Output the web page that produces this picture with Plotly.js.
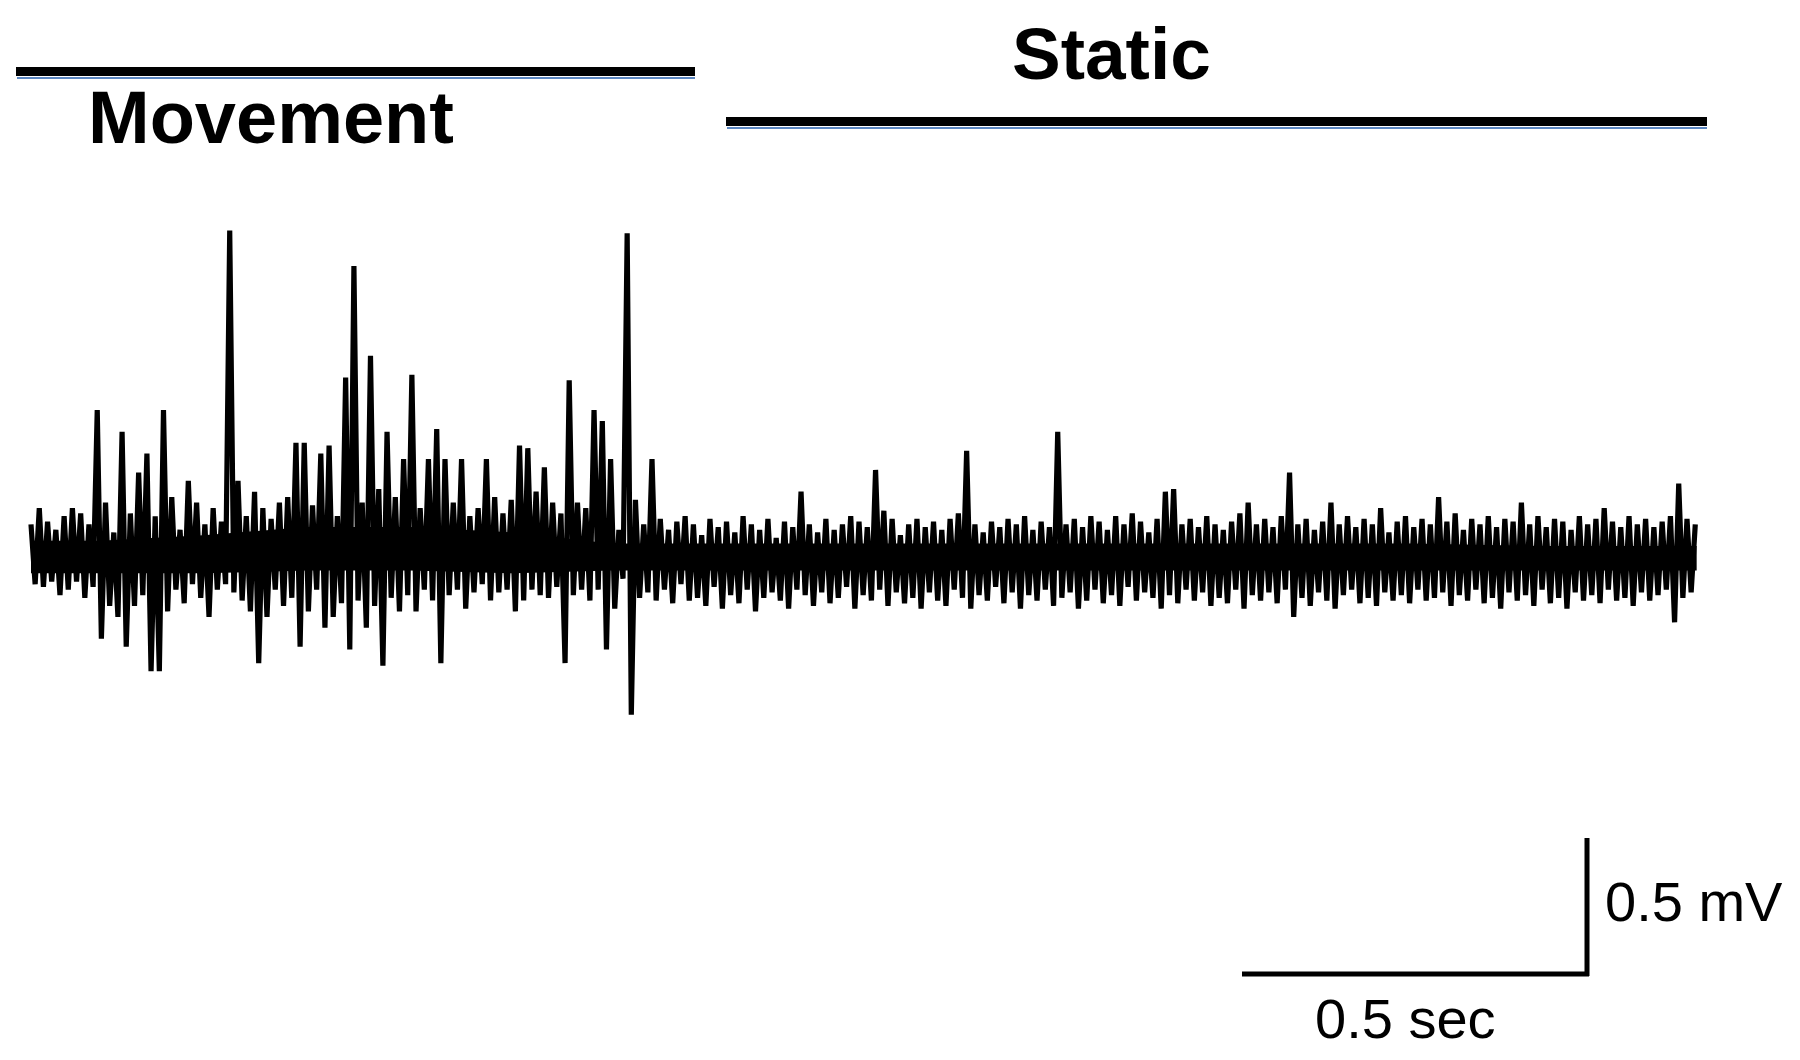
<!DOCTYPE html>
<html><head><meta charset="utf-8">
<script src="https://cdn.plot.ly/plotly-3.0.1.min.js"></script>
<style>html,body{margin:0;padding:0;background:#fff;overflow:hidden}#chart{width:1800px;height:1060px;}</style>
</head><body><div id="chart"></div>
<script>
// ---- data ----
const sampleInterval = 0.006; // seconds between samples
const emgMilliVolts = [
 0.12,-0.10, 0.18,-0.11, 0.13,-0.09, 0.10,-0.14, 0.15,-0.12,
 0.18,-0.09, 0.16,-0.15, 0.12,-0.11, 0.54,-0.30, 0.20,-0.18,
 0.09,-0.22, 0.46,-0.33, 0.16,-0.18, 0.31,-0.14, 0.38,-0.42,
 0.15,-0.42, 0.54,-0.20, 0.22,-0.12, 0.10,-0.17, 0.28,-0.10,
 0.20,-0.15, 0.12,-0.22, 0.18,-0.12, 0.13,-0.10, 1.20,-0.13,
 0.28,-0.16, 0.15,-0.20, 0.24,-0.39, 0.18,-0.22, 0.14,-0.12,
 0.20,-0.18, 0.22,-0.15, 0.42,-0.33, 0.42,-0.20, 0.19,-0.12,
 0.38,-0.26, 0.41,-0.22, 0.15,-0.17, 0.66,-0.34, 1.07,-0.16,
 0.20,-0.26, 0.74,-0.18, 0.25,-0.40, 0.46,-0.15, 0.22,-0.20,
 0.36,-0.14, 0.67,-0.20, 0.18,-0.12, 0.36,-0.16, 0.47,-0.39,
 0.36,-0.14, 0.20,-0.12, 0.36,-0.19, 0.15,-0.13, 0.18,-0.10,
 0.36,-0.16, 0.22,-0.13, 0.16,-0.12, 0.21,-0.20, 0.41,-0.16,
 0.40,-0.12, 0.24,-0.14, 0.33,-0.15, 0.20,-0.11, 0.16,-0.39,
 0.65,-0.14, 0.20,-0.12, 0.18,-0.16, 0.54,-0.12, 0.50,-0.34,
 0.36,-0.19, 0.10,-0.08, 1.19,-0.58, 0.21,-0.15, 0.12,-0.13,
 0.36,-0.16, 0.14,-0.12, 0.10,-0.17, 0.13,-0.10, 0.15,-0.16,
 0.12,-0.15, 0.08,-0.18, 0.14,-0.11, 0.11,-0.19, 0.13,-0.14,
 0.09,-0.17, 0.15,-0.12, 0.12,-0.20, 0.10,-0.15, 0.14,-0.13,
 0.07,-0.16, 0.13,-0.19, 0.11,-0.12, 0.24,-0.14, 0.12,-0.18,
 0.09,-0.13, 0.14,-0.17, 0.10,-0.15, 0.12,-0.11, 0.15,-0.19,
 0.13,-0.14, 0.11,-0.16, 0.32,-0.12, 0.17,-0.18, 0.14,-0.13,
 0.08,-0.17, 0.12,-0.15, 0.14,-0.19, 0.11,-0.13, 0.13,-0.16,
 0.10,-0.18, 0.14,-0.12, 0.16,-0.15, 0.39,-0.19, 0.12,-0.14,
 0.09,-0.16, 0.13,-0.11, 0.11,-0.17, 0.14,-0.13, 0.12,-0.19,
 0.15,-0.14, 0.10,-0.16, 0.13,-0.12, 0.11,-0.18, 0.46,-0.15,
 0.12,-0.13, 0.14,-0.19, 0.11,-0.16, 0.15,-0.12, 0.13,-0.17,
 0.10,-0.14, 0.15,-0.18, 0.12,-0.11, 0.16,-0.16, 0.13,-0.13,
 0.09,-0.15, 0.14,-0.19, 0.24,-0.14, 0.25,-0.17, 0.12,-0.12,
 0.14,-0.16, 0.11,-0.13, 0.15,-0.18, 0.12,-0.15, 0.10,-0.17,
 0.13,-0.12, 0.16,-0.19, 0.20,-0.14, 0.12,-0.16, 0.14,-0.13,
 0.11,-0.17, 0.15,-0.12, 0.31,-0.22, 0.12,-0.15, 0.14,-0.18,
 0.10,-0.13, 0.13,-0.16, 0.20,-0.19, 0.12,-0.14, 0.15,-0.12,
 0.11,-0.17, 0.14,-0.15, 0.12,-0.18, 0.18,-0.13, 0.09,-0.16,
 0.13,-0.14, 0.15,-0.17, 0.11,-0.12, 0.14,-0.16, 0.12,-0.15,
 0.22,-0.13, 0.13,-0.18, 0.16,-0.14, 0.10,-0.16, 0.14,-0.12,
 0.12,-0.17, 0.15,-0.15, 0.11,-0.19, 0.14,-0.13, 0.13,-0.16,
 0.20,-0.14, 0.12,-0.18, 0.15,-0.12, 0.11,-0.17, 0.14,-0.15,
 0.13,-0.19, 0.10,-0.13, 0.15,-0.16, 0.12,-0.14, 0.14,-0.17,
 0.18,-0.12, 0.13,-0.16, 0.11,-0.15, 0.15,-0.18, 0.12,-0.13,
 0.14,-0.16, 0.11,-0.14, 0.13,-0.12, 0.15,-0.24, 0.27,-0.15,
 0.14,-0.13, 0.12
];
// dense (solid black) core of the recording
const coreTime  = [0.00, 0.10, 0.25, 0.40, 0.55, 0.70, 0.84, 0.90, 1.10, 1.40, 1.70, 2.00, 2.20, 2.414];
const coreUpper = [0.06, 0.06, 0.08, 0.11, 0.11, 0.09, 0.05, 0.05, 0.05, 0.05, 0.05, 0.05, 0.04, 0.04];
const coreLower = [-0.06,-0.06,-0.06,-0.05,-0.05,-0.06,-0.05,-0.05,-0.05,-0.05,-0.05,-0.05,-0.05,-0.05];

const phaseLabels = ["Movement", "Static"];
const scaleBarSeconds = 0.5;
const scaleBarMilliVolts = 0.5;
const scaleLabels = ["0.5 sec", "0.5 mV"];

// ---- layout geometry (pixels of the 1800x1060 page) ----
const W = 1800, H = 1060;
const pxPerSec = 690, x0px = 31;     // t=0 at x=31 px
const pxPerMV = 272, y0px = 557;     // 0 mV at y=557 px
const xRange = [(0 - x0px) / pxPerSec, (W - x0px) / pxPerSec];
const yRange = [(y0px - H) / pxPerMV, (y0px - 0) / pxPerMV];
const tPx = px => (px - x0px) / pxPerSec;
const vPx = py => (y0px - py) / pxPerMV;
const FONT = '"Liberation Sans", Arial, Helvetica, sans-serif';

const coreTrace = {
  type: 'scatter', mode: 'lines',
  x: coreTime.concat(coreTime.slice().reverse()),
  y: coreUpper.concat(coreLower.slice().reverse()),
  fill: 'toself', fillcolor: '#000',
  line: {color: '#000', width: 0},
  hoverinfo: 'skip', showlegend: false
};
const trace = {
  type: 'scatter', mode: 'lines',
  x0: 0, dx: sampleInterval,
  y: emgMilliVolts,
  line: {color: '#000', width: 5.2},
  hoverinfo: 'skip', showlegend: false
};

// scale bar anchored at its corner
const sbT = tPx(1587), sbV = vPx(974);
const shapes = [
  // phase bars
  {type:'line', xref:'paper', yref:'paper', x0:17/W, x1:695/W, y0:1-78/H, y1:1-78/H, line:{color:'#5b86c0', width:2}},
  {type:'line', xref:'paper', yref:'paper', x0:16/W, x1:695/W, y0:1-71.5/H, y1:1-71.5/H, line:{color:'#000', width:9}},
  {type:'line', xref:'paper', yref:'paper', x0:727/W, x1:1707/W, y0:1-128/H, y1:1-128/H, line:{color:'#5b86c0', width:2}},
  {type:'line', xref:'paper', yref:'paper', x0:726/W, x1:1707/W, y0:1-121.5/H, y1:1-121.5/H, line:{color:'#000', width:9}},
  // scale bar
  {type:'line', xref:'x', yref:'y', x0:sbT - scaleBarSeconds, x1:sbT + 2/pxPerSec, y0:sbV, y1:sbV, line:{color:'#000', width:5}},
  {type:'line', xref:'x', yref:'y', x0:sbT, x1:sbT, y0:sbV - 2/pxPerMV, y1:sbV + scaleBarMilliVolts, line:{color:'#000', width:5}}
];

const annotations = [
  {text: phaseLabels[0], xref:'paper', yref:'paper', x:271/W, y:1-118/H, xanchor:'center', yanchor:'middle', showarrow:false, font:{family:FONT, size:74, weight:'bold', color:'#000'}},
  {text: phaseLabels[1], xref:'paper', yref:'paper', x:1111/W, y:1-53/H, xanchor:'center', yanchor:'middle', showarrow:false, font:{family:FONT, size:73, weight:'bold', color:'#000'}},
  {text: scaleLabels[0], xref:'x', yref:'y', x:tPx(1405), y:vPx(1018), xanchor:'center', yanchor:'middle', showarrow:false, font:{family:FONT, size:56, color:'#000'}},
  {text: scaleLabels[1], xref:'x', yref:'y', x:tPx(1603), y:vPx(901), xanchor:'left', yanchor:'middle', showarrow:false, font:{family:FONT, size:56, color:'#000'}}
];

const layout = {
  width: W, height: H,
  margin: {l:0, r:0, t:0, b:0, pad:0},
  paper_bgcolor: '#fff', plot_bgcolor: '#fff',
  xaxis: {range: xRange, visible: false, fixedrange: true},
  yaxis: {range: yRange, visible: false, fixedrange: true},
  shapes: shapes, annotations: annotations,
  showlegend: false
};
Plotly.newPlot('chart', [coreTrace, trace], layout, {staticPlot: true, displayModeBar: false});
</script>
</body></html>
